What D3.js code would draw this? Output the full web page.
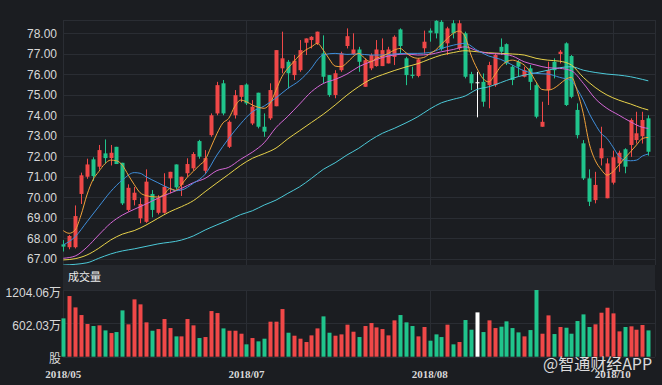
<!DOCTYPE html>
<html>
<head>
<meta charset="utf-8">
<script src="https://d3js.org/d3.v7.min.js"></script>
<style>
	body { margin: 0; background: #1b1d21; }
	svg { display: block; }
</style>
</head>
<body>
<div class="kline"></div>
<script>
// candle data, one entry per trading day
var opens = [67.70,67.56,67.56,70.16,71.00,71.85,71.49,72.14,71.91,72.46,
	71.68,69.38,69.86,68.97,68.80,70.16,69.24,69.24,70.92,71.60,
	70.60,71.17,71.41,72.74,71.29,73.03,74.09,75.56,72.46,74.00,
	74.90,75.50,73.60,75.10,73.44,73.85,74.44,76.29,76.61,75.96,
	76.20,77.54,77.67,77.51,77.02,75.96,74.99,76.20,77.38,76.98,
	77.21,75.39,76.29,76.40,76.40,76.53,76.85,78.19,76.78,75.98,
	75.92,77.27,78.13,78.61,78.56,77.51,78.49,77.27,78.00,76.01,
	75.61,75.63,75.47,75.47,77.34,77.47,76.37,76.61,75.88,76.29,
	75.47,73.44,75.23,76.61,76.99,77.51,76.89,74.26,72.63,70.92,
	69.86,71.90,69.95,70.71,71.65,72.34,72.55,72.79,72.98,73.85];

var closes = [67.59,68.11,69.08,71.07,71.60,71.03,72.30,71.91,72.17,71.62,
	69.70,70.46,70.22,69.67,70.76,69.38,69.95,70.51,71.24,70.48,
	71.00,71.62,72.11,71.98,71.91,74.00,75.47,74.09,73.68,74.98,
	75.47,74.58,74.42,73.44,73.20,75.23,77.18,76.78,76.05,76.66,
	77.18,77.75,77.83,78.08,75.88,74.99,76.05,77.02,77.86,77.21,
	76.61,76.69,76.94,77.21,77.18,77.21,77.83,77.38,75.96,75.92,
	76.73,77.59,78.03,78.00,77.23,78.24,78.00,78.49,75.88,75.56,
	75.61,74.66,76.45,76.94,77.10,76.53,75.72,76.37,76.20,75.63,
	73.93,73.68,76.20,76.20,77.10,74.50,74.90,73.03,70.92,69.78,
	70.60,72.39,71.65,71.95,72.17,71.49,73.77,73.12,73.77,72.22];

var highs = [67.91,68.16,69.60,71.20,71.88,71.95,72.55,72.82,72.55,72.46,
	71.68,70.63,70.50,69.95,71.36,70.35,70.10,71.17,71.24,71.60,
	71.00,71.90,72.20,72.80,72.30,74.09,75.63,75.72,73.75,75.23,
	75.47,75.56,74.74,75.10,74.09,75.56,77.18,78.08,76.70,76.94,
	77.67,77.75,77.86,78.08,77.90,75.96,76.20,77.10,78.24,78.00,
	77.34,76.78,77.02,77.67,77.75,77.34,77.90,78.24,76.85,76.37,
	76.78,78.13,78.24,78.64,78.64,78.32,78.64,78.64,78.08,76.12,
	76.12,76.04,76.61,77.02,77.75,77.51,76.45,76.69,76.37,76.45,
	75.56,74.66,76.61,76.78,77.18,77.56,76.94,74.58,72.79,71.36,
	71.24,73.44,71.90,72.27,72.27,72.39,73.85,74.17,74.17,74.00];

var lows = [67.35,67.46,67.50,69.67,70.90,70.80,71.35,71.65,71.55,71.62,
	69.62,69.30,69.60,68.73,68.75,69.02,69.16,69.20,70.19,70.40,
	70.06,71.00,71.29,71.88,71.15,72.95,74.00,74.00,72.40,73.84,
	74.64,74.50,73.52,73.36,72.95,73.77,74.44,76.05,75.31,75.72,
	76.12,76.94,77.26,77.43,75.56,74.90,74.83,76.12,77.26,76.94,
	76.12,75.39,76.20,76.37,76.40,76.53,76.45,77.02,75.47,75.80,
	75.85,77.02,77.59,77.75,77.15,76.94,77.75,77.18,75.80,75.23,
	73.90,74.42,74.34,75.39,76.94,76.45,75.47,75.88,75.85,75.23,
	73.85,73.44,74.50,75.80,76.53,74.45,74.83,72.87,70.84,69.57,
	69.70,71.55,69.95,70.62,71.24,71.17,71.97,72.62,72.62,72.03];

// volume in 万股
var volumes = [692,1095,890,752,590,554,566,475,427,445,
	836,584,1035,945,620,469,499,680,517,367,
	367,680,566,337,355,824,788,511,469,469,
	415,223,337,277,325,632,632,860,433,379,
	325,265,385,511,728,433,379,403,578,451,
	355,554,608,529,499,385,656,752,620,554,
	367,536,289,403,355,578,223,265,662,487,
	800,445,656,517,542,638,517,439,367,481,
	1204.06,415,746,409,536,523,415,644,764,536,
	584,794,884,782,457,536,548,487,572,475];

// moving averages: [day index, value]
var ma5 = [[0,68.37],[1,68.24],[2,68.40],[3,69.13],[4,70.11],[5,70.84],[6,71.25],[7,71.62],[8,71.81],[9,71.78],
	[10,71.56],[11,71.08],[12,70.62],[13,70.22],[14,70.08],[15,70.03],[16,70.01],[17,70.12],[18,70.42],[19,70.34],
	[20,70.62],[21,70.98],[22,71.26],[23,71.55],[24,71.82],[25,72.45],[26,73.10],[27,73.62],[28,73.85],[29,74.42],
	[30,74.74],[31,74.66],[32,74.50],[33,74.39],[34,74.34],[35,74.58],[36,75.23],[37,75.88],[38,76.29],[39,76.61],
	[40,76.94],[41,77.18],[42,77.34],[43,77.51],[44,77.18],[45,76.75],[46,76.40],[47,76.37],[48,76.56],[49,76.85],
	[50,77.02],[51,76.78],[52,76.61],[53,76.78],[54,76.89],[55,77.02],[56,77.18],[57,77.26],[58,77.05],[59,76.85],
	[60,76.78],[61,76.82],[62,77.00],[63,77.18],[64,77.47],[65,77.75],[66,78.00],[67,78.11],[68,77.83],[69,76.94],
	[70,76.29],[71,75.80],[72,75.63],[73,75.96],[74,76.37],[75,76.61],[76,76.69],[77,76.61],[78,76.45],[79,76.12],
	[80,75.63],[81,75.26],[82,75.23],[83,75.31],[84,75.52],[85,75.75],[86,75.85],[87,75.15],[88,74.09],[89,72.63],
	[90,71.81],[91,71.36],[92,71.08],[93,71.24],[94,71.57],[95,71.90],[96,72.22],[97,72.55],[98,72.87],[99,72.92]];

var ma10 = [[0,67.67],[2,68.07],[4,68.80],[6,69.54],[8,70.27],[10,70.84],[12,71.20],[13,71.17],[14,71.00],[16,70.71],
	[18,70.43],[19,70.32],[20,70.35],[22,70.68],[24,71.12],[26,72.06],[28,72.87],[30,73.58],[32,74.17],[34,74.45],
	[36,74.85],[38,75.31],[40,75.70],[42,76.30],[43,76.70],[44,76.95],[46,77.02],[48,76.97],[50,76.99],[52,76.94],
	[54,76.94],[56,76.99],[58,77.02],[60,77.02],[62,77.06],[64,77.26],[66,77.42],[68,77.51],[70,77.18],[72,76.89],
	[74,76.73],[76,76.45],[78,76.17],[80,76.04],[82,76.01],[84,75.85],[86,75.68],[87,75.26],[88,74.74],[89,74.09],
	[90,73.57],[91,73.12],[92,72.87],[93,72.46],[94,72.01],[95,71.81],[96,71.78],[97,71.81],[98,72.01],[99,72.11]];

var ma20 = [[0,67.02],[2,67.13],[4,67.56],[6,68.16],[8,68.73],[10,69.13],[12,69.41],[14,69.67],[16,69.95],[18,70.19],
	[20,70.43],[22,70.71],[24,70.92],[26,71.30],[28,71.46],[30,71.85],[32,72.20],[34,72.66],[36,73.40],[38,73.95],
	[40,74.55],[42,75.15],[44,75.55],[46,75.75],[48,76.01],[50,76.37],[52,76.61],[54,76.82],[56,76.94],[58,76.99],
	[60,76.94],[62,76.97],[64,77.10],[66,77.21],[68,77.34],[70,77.15],[72,77.02],[74,76.99],[76,76.89],[78,76.61],
	[80,76.45],[82,76.32],[84,76.29],[86,76.17],[88,75.56],[90,74.82],[92,74.34],[94,74.01],[96,73.68],[98,73.41],[99,73.36]];

var ma30 = [[0,66.94],[2,67.00],[4,67.18],[6,67.51],[8,67.91],[10,68.20],[12,68.37],[14,68.64],[16,68.97],[18,69.29],
	[20,69.54],[22,69.83],[24,70.27],[26,70.70],[28,71.12],[30,71.55],[32,71.90],[34,72.13],[36,72.40],[38,72.85],
	[40,73.25],[42,73.65],[44,74.05],[46,74.50],[48,74.98],[50,75.40],[52,75.75],[54,75.98],[56,76.18],[58,76.36],
	[60,76.52],[62,76.74],[64,76.94],[66,77.06],[68,77.15],[70,77.10],[72,77.05],[74,77.02],[76,76.99],[78,76.94],
	[80,76.78],[82,76.69],[84,76.64],[86,76.45],[88,75.85],[90,75.36],[92,74.99],[94,74.74],[96,74.55],[98,74.34],[99,74.26]];

var ma60 = [[0,66.69],[4,66.80],[6,67.02],[8,67.23],[10,67.38],[12,67.48],[14,67.60],[16,67.72],[20,67.91],[22,68.11],
	[24,68.40],[26,68.65],[28,68.89],[30,69.15],[32,69.34],[34,69.62],[36,69.86],[38,70.19],[40,70.51],[42,70.92],
	[44,71.36],[46,71.68],[48,72.06],[50,72.39],[52,72.79],[54,73.12],[56,73.36],[58,73.63],[60,73.93],[62,74.30],
	[64,74.61],[66,74.78],[68,74.94],[70,75.26],[72,75.39],[74,75.59],[76,75.80],[78,75.96],[80,76.07],[82,76.20],
	[84,76.32],[86,76.37],[88,76.20],[90,76.09],[92,76.01],[94,75.96],[96,75.88],[98,75.75],[99,75.68]];

// axis ticks
var priceTicks = [67,68,69,70,71,72,73,74,75,76,77,78];
var volTicks = [0, 602.03, 1204.06];
var volLabels = ["股", "602.03万", "1204.06万"];
var dateTicks = [0, 31, 62, 93];
var dateLabels = ["2018/05", "2018/07", "2018/08", "2018/10"];

// layout
var width = 662,
	height = 385,
	left = 63,
	right = 655,
	priceTop = 20,
	priceBottom = 265,
	volTop = 290,
	volBottom = 356.7;

var upColor = "#f04848",
	downColor = "#20c48c",
	flatColor = "#ffffff",
	gridColor = "#2a2d33",
	labelColor = "#d8d8d8";

var maColors = ["#f2a33a", "#3f8fdc", "#d567d6", "#e8d24a", "#4cc9d8"];

var svg = d3.select(".kline").append("svg")
	.attr("width", width)
	.attr("height", height);

svg.append("rect")
	.attr("width", width)
	.attr("height", height)
	.attr("fill", "#1b1d21");

var x = d3.scaleLinear().domain([0, 99]).range([63.3, 648.3]);
var y = d3.scaleLinear().domain([67, 78]).range([258.7, 33.3]);
var vy = d3.scaleLinear().domain([0, 1204.06]).range([volBottom, volTop]);

var days = d3.range(opens.length);

function colorOf(i) {
	if (closes[i] > opens[i]) return upColor;
	if (closes[i] < opens[i]) return downColor;
	return flatColor;
}

// clip for the price panel
svg.append("clipPath").attr("id", "priceClip")
	.append("rect")
	.attr("x", 55).attr("y", priceTop)
	.attr("width", right - 55).attr("height", priceBottom - priceTop);

// band with the volume title
svg.append("rect")
	.attr("x", left).attr("y", priceBottom)
	.attr("width", right - left).attr("height", volTop - priceBottom)
	.attr("fill", "#24272c");

svg.append("text")
	.attr("x", 68).attr("y", 281)
	.attr("fill", "#ececec")
	.style("font", "11px 'Noto Sans CJK SC', sans-serif")
	.text("成交量");

// grid lines
svg.selectAll(".pgrid")
	.data(priceTicks).enter()
	.append("line")
	.attr("x1", left).attr("x2", right)
	.attr("y1", function(d) { return Math.round(y(d)) + 0.5; })
	.attr("y2", function(d) { return Math.round(y(d)) + 0.5; })
	.attr("stroke", gridColor);

svg.append("line")
	.attr("x1", left).attr("x2", right)
	.attr("y1", priceTop + 0.5).attr("y2", priceTop + 0.5)
	.attr("stroke", gridColor);

svg.selectAll(".vgrid")
	.data(volTicks).enter()
	.append("line")
	.attr("x1", left).attr("x2", right)
	.attr("y1", function(d) { return Math.round(vy(d)) + 0.5; })
	.attr("y2", function(d) { return Math.round(vy(d)) + 0.5; })
	.attr("stroke", gridColor);

var vlines = [left].concat(dateTicks.slice(1).map(function(d) { return x(d); })).concat([right]);
vlines.forEach(function(vx) {
	var px = Math.round(vx) + 0.5;
	svg.append("line")
		.attr("x1", px).attr("x2", px)
		.attr("y1", priceTop).attr("y2", priceBottom)
		.attr("stroke", gridColor);
	svg.append("line")
		.attr("x1", px).attr("x2", px)
		.attr("y1", volTop).attr("y2", volBottom)
		.attr("stroke", gridColor);
});

// price labels
svg.selectAll(".plabel")
	.data(priceTicks).enter()
	.append("text")
	.attr("x", 57)
	.attr("y", function(d) { return y(d) + 4.4; })
	.attr("text-anchor", "end")
	.attr("fill", labelColor)
	.style("font", "12px 'Liberation Sans', Arial, sans-serif")
	.text(function(d) { return d.toFixed(2); });

// volume labels
svg.selectAll(".vlabel")
	.data(volTicks).enter()
	.append("text")
	.attr("x", 61)
	.attr("y", function(d) { return vy(d) + 6.5; })
	.attr("text-anchor", "end")
	.attr("fill", labelColor)
	.style("font", "12px 'Liberation Sans', 'Noto Sans CJK SC', sans-serif")
	.text(function(d, i) { return volLabels[i]; });

// date labels
svg.selectAll(".dlabel")
	.data(dateTicks).enter()
	.append("text")
	.attr("x", function(d) { return x(d); })
	.attr("y", 378)
	.attr("text-anchor", "middle")
	.attr("fill", labelColor)
	.style("font", "bold 11px 'Liberation Serif', serif")
	.text(function(d, i) { return dateLabels[i]; });

var price = svg.append("g").attr("clip-path", "url(#priceClip)");

// candles: wick then body
price.selectAll(".wick")
	.data(days).enter()
	.append("line")
	.attr("x1", function(d) { return Math.round(x(d)) + 0.5; })
	.attr("x2", function(d) { return Math.round(x(d)) + 0.5; })
	.attr("y1", function(d) { return y(highs[d]); })
	.attr("y2", function(d) { return y(lows[d]); })
	.attr("stroke", colorOf);

price.selectAll(".body")
	.data(days).enter()
	.append("rect")
	.attr("x", function(d) { return Math.round(x(d)) - 1.5; })
	.attr("width", 4)
	.attr("y", function(d) { return y(Math.max(opens[d], closes[d])); })
	.attr("height", function(d) { return Math.max(1, Math.abs(y(opens[d]) - y(closes[d]))); })
	.attr("fill", colorOf);

// moving average lines
var line = d3.line()
	.curve(d3.curveMonotoneX)
	.x(function(d) { return x(d[0]); })
	.y(function(d) { return y(d[1]); });

[ma60, ma30, ma20, ma10, ma5].forEach(function(series, k) {
	price.append("path")
		.datum(series)
		.attr("d", line)
		.attr("fill", "none")
		.attr("stroke", maColors[4 - k])
		.attr("stroke-width", 1);
});

// volume bars
svg.selectAll(".vol")
	.data(days).enter()
	.append("rect")
	.attr("x", function(d) { return Math.round(x(d)) - 1.5; })
	.attr("width", 4)
	.attr("y", function(d) { return vy(volumes[d]); })
	.attr("height", function(d) { return volBottom - vy(volumes[d]); })
	.attr("fill", colorOf);

// watermark
svg.append("text")
	.attr("x", 543).attr("y", 370)
	.attr("fill", "rgba(255,255,255,0.85)")
	.style("font", "16px 'Noto Sans CJK SC', sans-serif")
	.text("@智通财经APP");
</script>
</body>
</html>
